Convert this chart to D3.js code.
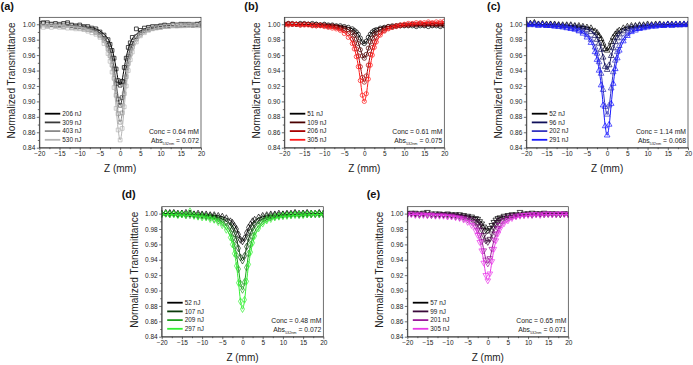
<!DOCTYPE html>
<html>
<head>
<meta charset="utf-8">
<script src="https://cdn.jsdelivr.net/npm/d3@7"></script>
<style>
  body { margin: 0; background: #fff; }
  svg { display: block; }
</style>
</head>
<body>
<script>
// z positions (mm) of measured points and of the fit curves
const zData = [-20,-19,-18,-17,-16,-15,-14,-13,-12,-11,-10,-9,-8,-7,-6,-5,-4,-3,-2.5,-2,-1.5,-1,-0.5,0,0.5,1,1.5,2,2.5,3,4,5,6,7,8,9,10,11,12,13,14,15,16,17,18,19,20];
const zFit = [-20,-12,-8,-6,-4,-3,-2,-1.5,-1,-0.5,0,0.5,1,1.5,2,3,4,6,8,12,20];

// (a)
const a206 = [1.001,1.002,1.002,1.000,1.001,0.999,1.001,1.002,0.999,0.998,0.999,0.997,0.997,0.995,0.994,0.990,0.986,0.980,0.974,0.966,0.956,0.942,0.927,0.921,0.926,0.944,0.956,0.970,0.976,0.983,0.994,0.992,0.995,0.996,0.997,0.997,0.998,0.999,0.998,1.000,0.999,1.000,0.999,1.000,0.999,1.000,1.001];
const a309 = [0.999,1.001,1.000,1.000,0.999,1.000,0.999,1.000,0.998,0.997,0.997,0.996,0.995,0.993,0.991,0.987,0.982,0.973,0.966,0.956,0.942,0.923,0.903,0.895,0.905,0.925,0.944,0.958,0.968,0.975,0.984,0.989,0.992,0.994,0.995,0.996,0.997,0.998,0.998,0.999,0.998,0.999,1.000,0.999,0.999,1.000,0.999];
const a403 = [0.998,0.999,0.998,0.999,0.998,0.998,0.997,0.998,0.996,0.996,0.995,0.994,0.993,0.992,0.989,0.985,0.979,0.968,0.959,0.947,0.930,0.908,0.884,0.873,0.885,0.910,0.932,0.949,0.961,0.970,0.981,0.987,0.991,0.993,0.995,0.996,0.996,0.997,0.998,0.998,0.999,0.998,0.999,0.999,1.000,0.999,0.999];
const a530 = [0.997,0.996,0.997,0.996,0.997,0.996,0.996,0.995,0.995,0.994,0.994,0.993,0.991,0.989,0.987,0.983,0.975,0.962,0.952,0.938,0.918,0.891,0.863,0.850,0.865,0.893,0.920,0.940,0.954,0.964,0.977,0.985,0.989,0.992,0.994,0.995,0.996,0.997,0.997,0.998,0.998,0.999,0.998,0.999,0.999,0.998,0.999];
const a206Fit = [0.999,0.998,0.996,0.994,0.987,0.981,0.968,0.957,0.943,0.928,0.921,0.928,0.943,0.957,0.968,0.981,0.987,0.994,0.996,0.998,0.999];
const a309Fit = [0.999,0.998,0.995,0.992,0.983,0.974,0.957,0.943,0.924,0.904,0.895,0.904,0.924,0.943,0.957,0.974,0.983,0.992,0.995,0.998,0.999];
const a403Fit = [0.999,0.997,0.994,0.990,0.980,0.969,0.948,0.931,0.909,0.884,0.873,0.884,0.909,0.931,0.948,0.969,0.980,0.990,0.994,0.997,0.999];
const a530Fit = [0.999,0.997,0.993,0.988,0.976,0.963,0.939,0.919,0.892,0.864,0.850,0.864,0.892,0.919,0.939,0.963,0.976,0.988,0.993,0.997,0.999];

// (b)
const b51 = [1.000,1.001,1.000,1.000,1.001,1.000,1.000,1.001,1.000,0.999,1.000,0.999,0.999,0.998,0.998,0.997,0.996,0.994,0.992,0.990,0.987,0.982,0.977,0.975,0.978,0.983,0.987,0.990,0.992,0.993,0.995,0.996,0.997,0.997,0.998,0.998,0.998,0.998,0.998,0.997,0.998,0.998,0.997,0.998,0.998,0.997,0.998];
const b109 = [1.000,1.000,1.001,1.000,1.000,1.001,1.000,0.999,1.000,0.999,0.999,0.998,0.998,0.997,0.996,0.995,0.993,0.989,0.986,0.981,0.975,0.967,0.959,0.956,0.961,0.969,0.977,0.982,0.987,0.989,0.993,0.995,0.997,0.998,0.998,0.999,0.999,0.999,1.000,0.999,1.000,0.999,1.000,0.999,1.000,0.999,0.999];
const b206 = [1.000,1.001,1.000,1.000,0.999,1.000,1.000,0.999,0.998,0.999,0.998,0.997,0.997,0.996,0.994,0.992,0.988,0.981,0.975,0.968,0.959,0.945,0.931,0.925,0.933,0.947,0.961,0.970,0.977,0.983,0.989,0.992,0.995,0.996,0.997,0.998,0.999,0.999,1.000,1.000,1.001,1.000,1.001,1.001,1.000,1.001,1.001];
const b305 = [1.000,0.999,1.000,1.000,0.999,0.999,0.999,0.998,0.998,0.998,0.997,0.996,0.995,0.994,0.992,0.988,0.983,0.975,0.968,0.958,0.945,0.927,0.908,0.900,0.910,0.929,0.947,0.960,0.970,0.977,0.986,0.991,0.994,0.996,0.998,0.999,1.000,1.001,1.001,1.002,1.002,1.002,1.003,1.002,1.003,1.003,1.004];
const b51Fit = [1.000,1.000,0.999,0.998,0.996,0.994,0.990,0.987,0.982,0.977,0.975,0.977,0.982,0.987,0.990,0.994,0.996,0.997,0.998,0.998,0.998];
const b109Fit = [1.000,0.999,0.998,0.997,0.993,0.989,0.982,0.976,0.968,0.960,0.956,0.960,0.968,0.976,0.982,0.989,0.993,0.997,0.998,0.999,0.999];
const b206Fit = [1.000,0.998,0.997,0.994,0.988,0.982,0.969,0.960,0.946,0.932,0.925,0.932,0.946,0.960,0.969,0.982,0.988,0.995,0.997,1.000,1.001];
const b305Fit = [0.999,0.998,0.995,0.992,0.984,0.976,0.959,0.946,0.928,0.909,0.900,0.909,0.928,0.946,0.959,0.976,0.985,0.994,0.998,1.001,1.003];

// (c)
const c52 = [1.000,1.001,1.002,1.000,1.001,1.000,1.000,1.000,0.999,0.999,0.999,0.999,0.998,0.998,0.997,0.996,0.995,0.991,0.989,0.985,0.981,0.975,0.968,0.966,0.970,0.977,0.983,0.987,0.990,0.992,0.995,0.997,0.998,0.998,0.999,0.999,1.000,0.999,1.000,1.000,0.999,1.000,1.000,0.999,1.000,1.000,1.000];
const c96 = [1.001,1.000,1.001,1.000,1.000,0.999,1.000,0.999,0.999,0.998,0.998,0.998,0.997,0.996,0.995,0.993,0.990,0.985,0.980,0.975,0.967,0.957,0.945,0.941,0.947,0.959,0.969,0.977,0.982,0.987,0.991,0.994,0.996,0.997,0.998,0.998,0.998,0.999,0.999,1.000,0.999,1.000,0.999,1.000,0.999,1.000,1.000];
const c202 = [1.000,0.999,1.000,0.999,0.999,0.998,0.998,0.998,0.997,0.997,0.996,0.995,0.994,0.992,0.990,0.986,0.980,0.970,0.962,0.951,0.936,0.915,0.893,0.883,0.895,0.917,0.938,0.953,0.964,0.972,0.982,0.988,0.992,0.994,0.995,0.996,0.997,0.998,0.998,0.999,0.998,0.999,0.999,1.000,0.999,1.000,0.999];
const c291 = [0.999,1.000,0.999,0.998,0.999,0.998,0.998,0.997,0.997,0.996,0.995,0.994,0.993,0.991,0.988,0.983,0.976,0.964,0.954,0.940,0.921,0.895,0.868,0.856,0.870,0.897,0.923,0.942,0.956,0.966,0.978,0.985,0.990,0.992,0.994,0.995,0.996,0.997,0.997,0.998,0.998,0.999,0.998,0.999,0.999,0.999,1.000];
const c52Fit = [1.000,0.999,0.998,0.997,0.995,0.992,0.986,0.982,0.976,0.969,0.966,0.969,0.976,0.982,0.986,0.992,0.995,0.997,0.998,0.999,1.000];
const c96Fit = [1.000,0.999,0.997,0.995,0.991,0.986,0.976,0.968,0.958,0.946,0.941,0.946,0.958,0.968,0.976,0.986,0.991,0.995,0.997,0.999,1.000];
const c202Fit = [0.999,0.998,0.995,0.991,0.981,0.971,0.952,0.937,0.916,0.894,0.883,0.894,0.916,0.937,0.952,0.971,0.981,0.991,0.995,0.998,0.999];
const c291Fit = [0.999,0.997,0.993,0.989,0.977,0.965,0.941,0.922,0.896,0.869,0.856,0.869,0.896,0.922,0.941,0.965,0.977,0.989,0.993,0.997,0.999];

// (d)
const d52 = [1.000,1.001,1.000,1.001,1.000,1.000,1.001,1.000,0.999,1.000,0.999,0.999,0.998,0.998,0.997,0.996,0.994,0.990,0.988,0.984,0.980,0.973,0.966,0.964,0.968,0.975,0.982,0.986,0.990,0.992,0.995,0.997,0.998,0.999,0.999,1.000,0.999,1.000,1.000,1.001,1.000,1.000,1.001,1.000,1.000,1.001,1.000];
const d107 = [1.000,1.000,1.001,1.000,0.999,1.000,0.999,1.000,0.999,0.998,0.998,0.997,0.997,0.996,0.994,0.992,0.989,0.984,0.980,0.974,0.966,0.955,0.943,0.939,0.945,0.957,0.968,0.976,0.982,0.986,0.991,0.994,0.996,0.997,0.998,0.998,0.999,0.999,0.999,1.000,0.999,1.000,1.000,0.999,1.000,1.000,0.999];
const d209 = [0.999,1.000,0.999,1.000,0.999,0.999,0.998,0.998,0.998,0.997,0.997,0.996,0.995,0.993,0.991,0.988,0.983,0.975,0.968,0.958,0.946,0.928,0.909,0.901,0.911,0.930,0.948,0.960,0.970,0.977,0.985,0.990,0.993,0.995,0.996,0.997,0.997,0.998,0.998,0.999,0.998,0.999,0.999,1.000,0.999,0.999,1.000];
const d297 = [0.999,1.000,0.999,0.999,0.998,0.999,0.998,1.003,0.997,0.996,0.995,0.995,0.993,0.992,0.989,0.985,0.979,0.969,0.960,0.948,0.932,0.910,0.886,0.876,0.888,0.912,0.934,0.950,0.962,0.971,0.981,0.987,0.991,0.993,0.995,0.996,0.997,0.997,0.998,0.998,0.999,0.998,0.999,0.999,1.000,0.999,0.999];
const d52Fit = [1.000,0.999,0.998,0.997,0.994,0.991,0.985,0.981,0.974,0.967,0.964,0.967,0.974,0.981,0.985,0.991,0.994,0.997,0.998,0.999,1.000];
const d107Fit = [1.000,0.999,0.997,0.995,0.990,0.985,0.975,0.967,0.956,0.944,0.939,0.944,0.956,0.967,0.975,0.985,0.990,0.995,0.997,0.999,1.000];
const d209Fit = [0.999,0.998,0.995,0.992,0.984,0.976,0.959,0.947,0.929,0.910,0.901,0.910,0.929,0.947,0.959,0.976,0.984,0.992,0.995,0.998,0.999];
const d297Fit = [0.999,0.997,0.994,0.990,0.980,0.970,0.949,0.933,0.911,0.887,0.876,0.887,0.911,0.933,0.949,0.970,0.980,0.990,0.994,0.997,0.999];

// (e)
const e57 = [1.000,1.001,1.000,1.000,1.001,1.002,1.000,1.000,1.000,0.999,1.000,0.999,0.999,0.999,0.998,0.997,0.996,0.994,0.993,0.990,0.987,0.983,0.979,0.978,0.981,0.985,0.989,0.992,0.994,0.995,0.997,0.998,0.999,0.999,1.002,1.000,1.000,1.001,1.000,1.000,1.001,1.000,1.000,1.000,0.999,1.000,1.000];
const e99 = [1.000,1.000,1.001,0.999,1.000,0.999,0.998,0.998,0.999,0.999,0.999,0.998,0.998,0.997,0.996,0.995,0.993,0.990,0.987,0.984,0.979,0.972,0.965,0.963,0.967,0.974,0.981,0.986,0.989,0.992,0.995,0.997,0.998,0.998,0.999,0.999,1.000,0.999,1.000,1.000,0.999,1.000,1.000,0.999,1.000,1.000,0.999];
const e201 = [0.999,1.000,0.999,0.998,0.999,0.998,0.999,0.998,0.998,0.998,0.997,0.997,0.996,0.995,0.994,0.992,0.989,0.983,0.979,0.972,0.964,0.952,0.940,0.935,0.942,0.954,0.966,0.974,0.981,0.985,0.991,0.994,0.996,0.997,0.998,0.998,0.999,0.998,0.999,0.999,1.000,0.999,0.999,1.000,0.999,1.000,0.999];
const e305 = [0.999,0.999,0.998,0.999,0.998,0.998,0.998,0.997,0.997,0.997,0.996,0.996,0.995,0.994,0.992,0.989,0.985,0.978,0.972,0.963,0.952,0.936,0.920,0.913,0.922,0.938,0.954,0.965,0.974,0.980,0.987,0.991,0.994,0.996,0.997,0.998,0.998,0.999,0.999,0.998,0.999,1.000,0.999,0.999,1.000,0.999,0.999];
const e57Fit = [1.000,1.000,0.999,0.998,0.996,0.995,0.991,0.988,0.984,0.980,0.978,0.980,0.984,0.988,0.991,0.995,0.996,0.998,0.999,1.000,1.000];
const e99Fit = [1.000,0.999,0.998,0.997,0.994,0.991,0.985,0.980,0.973,0.966,0.963,0.966,0.973,0.980,0.985,0.991,0.994,0.997,0.998,0.999,1.000];
const e201Fit = [0.999,0.999,0.997,0.995,0.990,0.984,0.973,0.965,0.953,0.941,0.935,0.941,0.953,0.965,0.973,0.984,0.990,0.995,0.997,0.999,0.999];
const e305Fit = [0.999,0.998,0.996,0.993,0.986,0.979,0.964,0.953,0.937,0.921,0.913,0.921,0.937,0.953,0.964,0.979,0.986,0.993,0.996,0.998,0.999];

const energyLabels = [
    ["206 nJ", "309 nJ", "403 nJ", "530 nJ"],
    ["51 nJ", "109 nJ", "206 nJ", "305 nJ"],
    ["52 nJ", "96 nJ", "202 nJ", "291 nJ"],
    ["52 nJ", "107 nJ", "209 nJ", "297 nJ"],
    ["57 nJ", "99 nJ", "201 nJ", "305 nJ"]
];
const concValues = ["0.64", "0.61", "1.14", "0.48", "0.65"];
const absValues = ["0.072", "0.075", "0.068", "0.072", "0.071"];
const panelNames = ["(a)", "(b)", "(c)", "(d)", "(e)"];
const xTicks = [-20, -15, -10, -5, 0, 5, 10, 15, 20];
const yTicks = [0.84, 0.86, 0.88, 0.90, 0.92, 0.94, 0.96, 0.98, 1.00];

const W = 693, H = 365;
const FONT = "'Liberation Sans', Arial, sans-serif";

const panels = [
    {left: 39.3, right: 201, top: 17.3, bottom: 147.7, lx: 0.5, ly: 10,
     data: [a206, a309, a403, a530], fits: [a206Fit, a309Fit, a403Fit, a530Fit],
     colors: ["#000000", "#3a3a3a", "#8a8a8a", "#b4b4b4"], symbol: "square"},
    {left: 284.3, right: 444.3, top: 17.3, bottom: 147.7, lx: 244.3, ly: 10,
     data: [b51, b109, b206, b305], fits: [b51Fit, b109Fit, b206Fit, b305Fit],
     colors: ["#000000", "#4a0000", "#a80000", "#ff1a1a"], symbol: "circle"},
    {left: 526.3, right: 688, top: 17.3, bottom: 147.7, lx: 487, ly: 10,
     data: [c52, c96, c202, c291], fits: [c52Fit, c96Fit, c202Fit, c291Fit],
     colors: ["#000000", "#10105a", "#3535c0", "#1a1aff"], symbol: "triangle"},
    {left: 161.7, right: 323.3, top: 206.7, bottom: 336.7, lx: 121.7, ly: 198,
     data: [d52, d107, d209, d297], fits: [d52Fit, d107Fit, d209Fit, d297Fit],
     colors: ["#000000", "#0b3a0b", "#1fa01f", "#33f033"], symbol: "diamond"},
    {left: 407.3, right: 568.3, top: 206.7, bottom: 336.7, lx: 366.7, ly: 198,
     data: [e57, e99, e201, e305], fits: [e57Fit, e99Fit, e201Fit, e305Fit],
     colors: ["#000000", "#3a0a3a", "#9a1a9a", "#e83ae8"], symbol: "triangleDown"}
];

const svg = d3.select("body").append("svg")
    .attr("width", W)
    .attr("height", H)
    .style("font-family", FONT);

svg.append("rect").attr("width", W).attr("height", H).attr("fill", "#fff");

const symbolTypes = {
    square: d3.symbolSquare,
    circle: d3.symbolCircle,
    triangle: d3.symbolTriangle,
    diamond: d3.symbolDiamond,
    triangleDown: d3.symbolTriangle
};

function drawPanel(p, idx) {
    const x = d3.scaleLinear().domain([-20, 20]).range([p.left, p.right]);
    const y = d3.scaleLinear().domain([0.84, 1.009]).range([p.bottom, p.top]);
    const g = svg.append("g");

    const clipId = "clip" + idx;
    g.append("clipPath").attr("id", clipId)
      .append("rect")
        .attr("x", p.left).attr("y", p.top)
        .attr("width", p.right - p.left).attr("height", p.bottom - p.top);

    const plot = g.append("g").attr("clip-path", "url(#" + clipId + ")");

    const line = d3.line()
        .x(d => x(d[0]))
        .y(d => y(d[1]))
        .curve(d3.curveMonotoneX);

    const sym = d3.symbol().type(symbolTypes[p.symbol]).size(14);
    const rot = p.symbol === "triangleDown" ? " rotate(180)" : "";

    p.data.forEach((series, i) => {
        const color = p.colors[i];
        const pts = zData.map((z, k) => [z, series[k]]);
        const fitPts = zFit.map((z, k) => [z, p.fits[i][k]]);

        plot.append("g")
            .selectAll("path")
            .data(pts)
            .enter().append("path")
            .attr("d", sym)
            .attr("transform", d => "translate(" + x(d[0]) + "," + y(d[1]) + ")" + rot)
            .attr("fill", "none")
            .attr("stroke", color)
            .attr("stroke-width", 0.7);

        plot.append("path")
            .datum(fitPts)
            .attr("d", line)
            .attr("fill", "none")
            .attr("stroke", color)
            .attr("stroke-width", 1);
    });

    // axes
    const xAxis = g.append("g")
        .attr("transform", "translate(0," + p.bottom + ")")
        .call(d3.axisBottom(x).tickValues(xTicks).tickSize(2.5).tickSizeOuter(0).tickPadding(1.5));
    g.append("g")
        .attr("transform", "translate(0," + p.bottom + ")")
        .call(d3.axisBottom(x).tickValues(d3.range(-17.5, 20, 5)).tickSize(1.5).tickFormat(""))
        .select(".domain").remove();

    const yAxis = g.append("g")
        .attr("transform", "translate(" + p.left + ",0)")
        .call(d3.axisLeft(y).tickValues(yTicks).tickFormat(d3.format(".2f")).tickSize(2.5).tickSizeOuter(0).tickPadding(1.5));
    g.append("g")
        .attr("transform", "translate(" + p.left + ",0)")
        .call(d3.axisLeft(y).tickValues(d3.range(0.85, 1.0, 0.02)).tickSize(1.5).tickFormat(""))
        .select(".domain").remove();

    [xAxis, yAxis].forEach(a => {
        a.selectAll("text").style("font-size", "6.5px").style("font-family", FONT).attr("fill", "#222");
        a.selectAll("line, path").attr("stroke", "#333").attr("stroke-width", 0.7);
    });
    g.selectAll(".tick line").attr("stroke", "#333").attr("stroke-width", 0.7);

    g.append("rect")
        .attr("x", p.left).attr("y", p.top)
        .attr("width", p.right - p.left).attr("height", p.bottom - p.top)
        .attr("fill", "none")
        .attr("stroke", "#333")
        .attr("stroke-width", 0.7);

    // axis titles
    g.append("text")
        .attr("transform", "translate(" + (p.left - 24) + "," + ((p.top + p.bottom) / 2 - 2) + ") rotate(-90)")
        .attr("text-anchor", "middle")
        .style("font-size", "10px")
        .attr("fill", "#222")
        .text("Normalized Transmittance");

    g.append("text")
        .attr("x", (p.left + p.right) / 2)
        .attr("y", p.bottom + 24)
        .attr("text-anchor", "middle")
        .style("font-size", "10px")
        .attr("fill", "#222")
        .text("Z (mm)");

    // panel label
    g.append("text")
        .attr("x", p.lx).attr("y", p.ly)
        .style("font-size", "11px")
        .style("font-weight", "bold")
        .attr("fill", "#111")
        .text(panelNames[idx]);

    // legend
    energyLabels[idx].forEach((lab, i) => {
        const ly = p.bottom - 34 + i * 8.7;
        g.append("line")
            .attr("x1", p.left + 5.5).attr("x2", p.left + 21)
            .attr("y1", ly).attr("y2", ly)
            .attr("stroke", p.colors[i])
            .attr("stroke-width", 1.8);
        g.append("text")
            .attr("x", p.left + 23).attr("y", ly)
            .attr("dy", "0.35em")
            .style("font-size", "6.4px")
            .attr("fill", "#222")
            .text(lab);
    });

    // concentration / absorbance note
    g.append("text")
        .attr("x", p.right - 2).attr("y", p.bottom - 13.5)
        .attr("text-anchor", "end")
        .style("font-size", "6.8px")
        .attr("fill", "#222")
        .text("Conc = " + concValues[idx] + " mM");

    const abs = g.append("text")
        .attr("x", p.right - 2).attr("y", p.bottom - 4.5)
        .attr("text-anchor", "end")
        .style("font-size", "6.8px")
        .attr("fill", "#222");
    abs.append("tspan").text("Abs");
    abs.append("tspan").attr("dy", 1.8).style("font-size", "3.8px").text("532nm");
    abs.append("tspan").attr("dy", -1.8).text(" = " + absValues[idx]);
}

panels.forEach(drawPanel);
</script>
</body>
</html>
